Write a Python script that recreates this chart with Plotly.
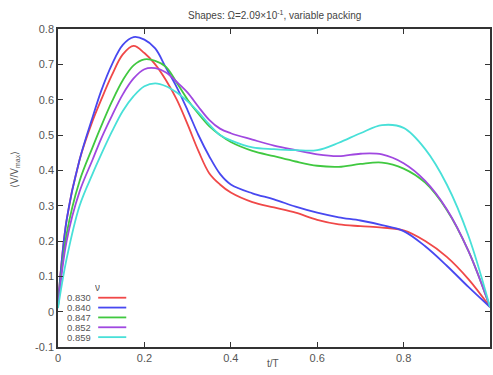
import plotly.graph_objects as go

# Normalised time within the cycle
t = [0, 0.02, 0.05, 0.08, 0.1, 0.125, 0.15, 0.175, 0.2, 0.225, 0.25, 0.275,
     0.3, 0.325, 0.35, 0.375, 0.4, 0.45, 0.5, 0.55, 0.6, 0.65, 0.7, 0.75,
     0.8, 0.85, 0.9, 0.95, 1.0]

# Packing fractions (legend labels)
packing = ["0.830", "0.840", "0.847", "0.852", "0.859"]

# <V/Vmax> for each packing fraction
v_830 = [0.02, 0.26, 0.43, 0.54, 0.60, 0.67, 0.728, 0.752, 0.732, 0.70, 0.655,
         0.60, 0.53, 0.455, 0.392, 0.36, 0.337, 0.31, 0.295, 0.28, 0.26, 0.247,
         0.242, 0.238, 0.23, 0.2, 0.155, 0.092, 0.013]
v_840 = [0.02, 0.26, 0.43, 0.55, 0.625, 0.70, 0.755, 0.777, 0.77, 0.745, 0.69,
         0.635, 0.57, 0.50, 0.44, 0.39, 0.36, 0.335, 0.318, 0.297, 0.28, 0.267,
         0.258, 0.245, 0.228, 0.185, 0.13, 0.07, 0.013]
v_847 = [0.015, 0.22, 0.37, 0.465, 0.525, 0.595, 0.655, 0.697, 0.714, 0.71, 0.693,
         0.648, 0.60, 0.56, 0.525, 0.50, 0.48, 0.455, 0.44, 0.425, 0.413, 0.41,
         0.418, 0.422, 0.405, 0.365, 0.288, 0.172, 0.013]
v_852 = [0.015, 0.2, 0.34, 0.43, 0.49, 0.555, 0.615, 0.66, 0.686, 0.689, 0.677,
         0.65, 0.62, 0.58, 0.543, 0.518, 0.505, 0.487, 0.47, 0.457, 0.445, 0.44,
         0.447, 0.445, 0.42, 0.37, 0.29, 0.172, 0.013]
v_859 = [0.01, 0.15, 0.3, 0.39, 0.445, 0.51, 0.568, 0.61, 0.638, 0.646, 0.638,
         0.62, 0.595, 0.565, 0.53, 0.50, 0.485, 0.465, 0.46, 0.457, 0.457, 0.478,
         0.505, 0.528, 0.52, 0.46, 0.36, 0.215, 0.013]

series = [v_830, v_840, v_847, v_852, v_859]
colors = ["#f04848", "#4848f0", "#40c840", "#a048e0", "#48e0d8"]

x_ticks = [0, 0.2, 0.4, 0.6, 0.8, 1]
x_labels = ["0", "0.2", "0.4", "0.6", "0.8", "1"]
y_ticks = [-0.1, 0, 0.1, 0.2, 0.3, 0.4, 0.5, 0.6, 0.7, 0.8]
y_labels = ["-0.1", "0", "0.1", "0.2", "0.3", "0.4", "0.5", "0.6", "0.7", "0.8"]

FONT = "Liberation Sans, Arial, sans-serif"
TEXT = "#555555"

fig = go.Figure()
for name, vals, col in zip(packing, series, colors):
    fig.add_trace(go.Scatter(
        x=t, y=vals, mode="lines", name=name,
        line=dict(color=col, width=1.8, shape="spline", smoothing=1.0),
        showlegend=False,
    ))

axis_common = dict(
    showgrid=False, zeroline=False, showline=True, linecolor="#333333",
    linewidth=1.5, mirror="ticks", ticks="inside", ticklen=5,
    tickcolor="#333333", tickwidth=1.3,
    tickfont=dict(family=FONT, size=11, color=TEXT),
)

fig.update_layout(
    width=493, height=375,
    margin=dict(l=58, r=1, t=29, b=28),
    paper_bgcolor="white", plot_bgcolor="white",
    xaxis=dict(range=[0, 1], tickvals=x_ticks, ticktext=x_labels, **axis_common),
    yaxis=dict(range=[-0.1, 0.8], tickvals=y_ticks, ticktext=y_labels, **axis_common),
    showlegend=False,
)

# Title and axis labels
fig.add_annotation(
    text="Shapes: Ω=2.09×10<sup>-1</sup>, variable packing",
    xref="paper", yref="paper", x=0.5, y=1.044, xanchor="center", yanchor="middle",
    showarrow=False, font=dict(family=FONT, size=10, color="#444444"),
)
fig.add_annotation(
    text="t/T", xref="paper", yref="paper", x=0.498, y=-0.053,
    xanchor="center", yanchor="middle",
    showarrow=False, font=dict(family=FONT, size=10, color=TEXT),
)
fig.add_annotation(
    text="⟨V/V<sub>max</sub>⟩", xref="paper", yref="paper", x=-0.099, y=0.557,
    xanchor="center", yanchor="middle",
    textangle=-90, showarrow=False, font=dict(family=FONT, size=10, color=TEXT),
)

# Key: header, labels on the left, line samples on the right
row_y = [0.155, 0.124, 0.093, 0.062, 0.031]
fig.add_annotation(
    text="ν", xref="paper", yref="paper", x=0.0906, y=0.188,
    xanchor="center", yanchor="middle", height=10, borderpad=0,
    showarrow=False, font=dict(family=FONT, size=10, color=TEXT),
)
for name, col, yy in zip(packing, colors, row_y):
    fig.add_annotation(
        text=name, xref="paper", yref="paper", x=0.079, y=yy,
        xanchor="right", yanchor="middle", showarrow=False,
        height=9, borderpad=0, font=dict(family=FONT, size=9.5, color=TEXT),
    )
    fig.add_shape(
        type="line", xref="paper", yref="paper",
        x0=0.093, x1=0.158, y0=yy, y1=yy,
        line=dict(color=col, width=1.8),
    )

fig.write_html("out.html")
